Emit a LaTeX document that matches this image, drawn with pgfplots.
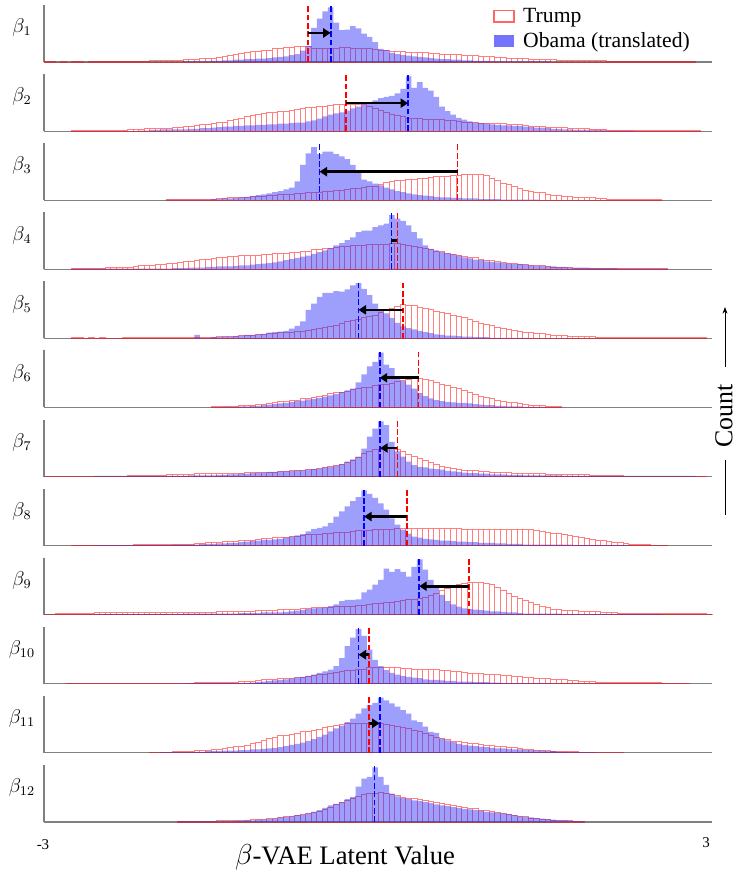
\documentclass[border=0pt]{standalone}
\usepackage{pgfplots}
\pgfplotsset{compat=1.18}
\usepackage{pgfplotstable}
\usetikzlibrary{arrows.meta}
\usepackage{fontspec}
\setmainfont{Liberation Serif}
\definecolor{ob}{RGB}{40,40,250}

% bin k spans [-3+0.05k, -3+0.05(k+1)]; values in percent of panel height
\pgfplotstableread{
k t o
0 1 0
1 1 0
2 0 0
3 1 0
4 0 0
5 1 0
6 1 0
7 0 0
8 1 0
9 1 0
10 1 0
11 1 0
12 1 0
13 1 0
14 1 0
15 1 0
16 1 0
17 1 0
18 1 0
19 2 0
20 2 0
21 2 0
22 3 0
23 3 0
24 3 0
25 4 1
26 4 1
27 5 1
28 6 1
29 6 1
30 7 2
31 8 2
32 10 3
33 12 3
34 14 4
35 15 4
36 16 5
37 18 5
38 19 6
39 20 6
40 21 7
41 23 8
42 24 9
43 25 10
44 26 12
45 27 14
46 28 20
47 28 28
48 24 60
49 23 76
50 23 89
51 24 96
52 24 69
53 25 56
54 25 57
55 24 63
56 24 59
57 23 50
58 23 44
59 22 35
60 21 23
61 20 21
62 19 16
63 18 14
64 18 12
65 17 11
66 17 10
67 16 9
68 16 8
69 15 7
70 15 6
71 14 5
72 14 5
73 13 4
74 13 4
75 12 3
76 12 3
77 11 2
78 10 2
79 10 2
80 9 1
81 8 1
82 8 1
83 7 1
84 7 1
85 6 1
86 6 1
87 5 1
88 5 1
89 4 1
90 4 1
91 4 0
92 3 0
93 3 0
94 3 0
95 2 0
96 2 0
97 2 0
98 2 0
99 2 0
100 2 0
101 1 0
102 1 0
103 1 0
104 1 0
105 1 0
106 1 0
107 1 0
108 1 0
109 1 0
110 1 0
111 1 0
112 1 0
113 1 0
114 1 0
115 1 0
116 1 0
117 0 0
}\tA

\pgfplotstableread{
k t o
5 1 0
6 1 0
7 1 0
8 1 0
9 1 0
10 1 0
11 2 0
12 2 0
13 2 0
14 2 0
15 3 0
16 3 0
17 3 1
18 4 1
19 4 2
20 4 2
21 5 3
22 5 3
23 6 3
24 7 3
25 8 3
26 9 4
27 10 4
28 11 5
29 12 5
30 14 6
31 15 7
32 16 8
33 18 8
34 20 9
35 23 9
36 26 10
37 28 10
38 30 11
39 31 11
40 32 12
41 33 12
42 34 13
43 35 13
44 36 14
45 38 15
46 40 15
47 41 17
48 42 19
49 43 22
50 44 26
51 45 29
52 46 31
53 47 33
54 47 36
55 47 40
56 47 43
57 46 47
58 44 50
59 40 54
60 36 58
61 32 60
62 29 62
63 27 66
64 25 74
65 23 96
66 22 76
67 22 86
68 21 76
69 21 71
70 20 60
71 20 43
72 19 35
73 18 29
74 17 23
75 16 20
76 15 17
77 15 15
78 14 14
79 14 13
80 14 12
81 14 11
82 13 10
83 12 10
84 12 9
85 11 9
86 10 8
87 9 7
88 9 6
89 8 6
90 7 5
91 7 4
92 6 4
93 6 3
94 5 3
95 5 2
96 4 2
97 4 2
98 3 2
99 3 2
100 3 2
101 2 1
102 2 1
103 1 1
104 1 1
105 1 1
106 1 0
107 1 0
108 1 0
109 1 0
110 1 0
111 1 0
112 1 0
113 1 0
114 1 0
115 1 0
116 1 0
117 1 0
118 0 0
}\tB

\pgfplotstableread{
k t o
22 1 1
23 1 1
24 1 1
25 1 1
26 2 1
27 2 1
28 2 1
29 2 1
30 2 2
31 3 2
32 3 3
33 4 3
34 4 4
35 5 5
36 5 6
37 6 7
38 6 9
39 7 10
40 8 12
41 9 14
42 10 16
43 10 19
44 11 22
45 12 33
46 12 62
47 13 82
48 14 93
49 14 81
50 15 85
51 16 85
52 17 81
53 18 77
54 19 72
55 20 62
56 21 48
57 22 36
58 24 33
59 25 29
60 28 26
61 31 22
62 33 19
63 34 16
64 35 14
65 36 12
66 37 10
67 38 9
68 39 8
69 40 7
70 41 6
71 41 5
72 42 5
73 43 4
74 44 4
75 45 3
76 46 3
77 46 3
78 46 2
79 43 2
80 39 2
81 34 2
82 30 1
83 27 1
84 24 1
85 20 1
86 18 1
87 16 1
88 14 1
89 13 0
90 11 0
91 9 0
92 8 0
93 7 0
94 6 0
95 5 0
96 5 0
97 4 0
98 4 0
99 3 0
100 3 0
101 2 0
102 2 0
103 1 0
104 1 0
105 1 0
106 1 0
107 1 0
108 1 0
109 1 0
110 1 0
111 0 0
}\tC

\pgfplotstableread{
k t o
5 1 1
6 1 1
7 2 1
8 2 1
9 2 1
10 2 1
11 3 1
12 3 1
13 3 1
14 4 1
15 4 1
16 5 1
17 6 1
18 6 1
19 7 1
20 8 1
21 9 1
22 10 1
23 11 2
24 12 2
25 13 2
26 14 3
27 15 3
28 17 3
29 18 4
30 19 4
31 20 5
32 21 5
33 22 5
34 23 6
35 24 7
36 24 7
37 25 8
38 25 9
39 26 10
40 26 11
41 27 12
42 28 14
43 28 16
44 29 18
45 30 20
46 31 22
47 32 24
48 34 27
49 35 30
50 36 33
51 37 37
52 38 42
53 40 46
54 40 51
55 41 56
56 42 65
57 42 68
58 43 68
59 43 74
60 44 77
61 44 80
62 45 95
63 45 89
64 43 85
65 41 77
66 40 65
67 38 54
68 36 42
69 34 36
70 32 33
71 31 30
72 28 28
73 26 26
74 25 24
75 23 21
76 21 19
77 20 17
78 18 16
79 16 14
80 15 13
81 13 12
82 12 11
83 11 10
84 10 9
85 9 9
86 8 8
87 7 7
88 6 6
89 6 6
90 5 5
91 4 5
92 4 4
93 3 4
94 3 3
95 2 3
96 2 3
97 2 3
98 2 2
99 2 2
100 2 2
101 1 2
102 1 2
103 1 1
104 1 1
105 1 1
106 1 1
107 1 1
108 1 1
109 1 1
110 1 1
111 1 1
112 0 0
}\tD

\pgfplotstableread{
k t o
5 1 0
6 1 0
7 0 0
8 1 0
9 0 0
10 1 0
11 0 0
12 0 0
13 0 0
14 1 0
15 1 0
16 1 0
17 1 0
18 1 0
19 1 0
20 1 0
21 1 0
22 1 0
23 1 0
24 1 0
25 1 0
26 1 0
27 2 6
28 2 1
29 2 1
30 2 2
31 3 2
32 3 3
33 4 3
34 4 4
35 5 5
36 5 6
37 6 6
38 7 7
39 7 8
40 8 10
41 9 11
42 10 12
43 10 13
44 11 17
45 12 22
46 13 30
47 14 50
48 15 61
49 17 73
50 19 80
51 21 80
52 23 83
53 26 82
54 29 86
55 31 93
56 33 97
57 36 87
58 38 76
59 41 61
60 45 50
61 49 44
62 53 36
63 56 27
64 59 21
65 58 18
66 57 16
67 55 13
68 53 11
69 51 9
70 48 7
71 46 6
72 44 5
73 41 5
74 39 4
75 36 3
76 33 3
77 30 2
78 27 2
79 25 2
80 22 1
81 19 1
82 17 1
83 16 1
84 14 1
85 13 1
86 11 1
87 10 0
88 9 0
89 8 0
90 7 0
91 6 0
92 6 0
93 5 0
94 4 0
95 4 0
96 3 0
97 3 0
98 3 0
99 2 0
100 2 0
101 2 0
102 2 0
103 2 0
104 1 0
105 1 0
106 1 0
107 1 0
108 1 0
109 1 0
110 1 0
111 1 0
112 1 0
113 1 0
114 1 0
115 1 0
116 1 0
117 1 0
118 1 0
119 0 0
}\tE

\pgfplotstableread{
k t o
30 1 0
31 1 0
32 1 1
33 2 1
34 2 1
35 3 2
36 3 2
37 4 3
38 5 3
39 6 4
40 7 5
41 8 6
42 10 7
43 11 8
44 12 10
45 13 11
46 15 12
47 16 14
48 18 15
49 20 17
50 22 19
51 24 21
52 26 24
53 27 27
54 29 30
55 31 33
56 33 44
57 35 58
58 36 72
59 38 80
60 40 96
61 41 75
62 43 69
63 45 55
64 47 46
65 50 40
66 52 33
67 51 25
68 49 20
69 47 16
70 44 13
71 41 11
72 39 10
73 36 9
74 34 8
75 30 8
76 26 7
77 23 6
78 20 5
79 18 4
80 15 4
81 13 3
82 11 3
83 9 2
84 8 2
85 7 2
86 5 1
87 4 1
88 4 1
89 3 1
90 2 0
91 2 0
92 1 0
93 0 0
}\tF

\pgfplotstableread{
k t o
0 1 0
1 1 0
2 1 0
3 1 0
4 1 0
5 1 0
6 1 0
7 1 0
8 1 0
9 1 1
10 1 1
11 1 1
12 1 1
13 1 1
14 1 1
15 2 1
16 2 1
17 2 1
18 2 1
19 2 1
20 2 1
21 2 1
22 3 1
23 3 1
24 4 1
25 4 1
26 4 2
27 5 2
28 5 2
29 5 2
30 5 2
31 6 3
32 6 3
33 6 4
34 6 4
35 6 5
36 7 5
37 7 6
38 7 7
39 8 7
40 8 8
41 8 8
42 9 9
43 9 9
44 10 10
45 11 11
46 11 11
47 12 12
48 13 13
49 15 14
50 16 16
51 18 17
52 20 19
53 22 22
54 25 26
55 29 30
56 33 35
57 40 49
58 44 70
59 47 84
60 48 97
61 49 90
62 49 61
63 47 44
64 44 35
65 39 26
66 35 20
67 32 17
68 29 16
69 25 14
70 21 13
71 18 12
72 16 10
73 14 9
74 13 8
75 11 7
76 10 6
77 10 6
78 9 5
79 9 5
80 8 4
81 8 4
82 7 4
83 7 3
84 6 3
85 6 3
86 6 2
87 5 2
88 5 2
89 5 2
90 4 2
91 4 2
92 4 2
93 4 1
94 3 1
95 3 1
96 3 1
97 3 1
98 2 1
99 2 1
100 2 1
101 2 1
102 2 1
103 2 1
104 1 1
105 1 1
106 1 1
107 1 1
108 1 1
109 1 1
110 1 1
111 1 1
112 1 1
113 1 1
114 1 1
115 1 1
116 1 1
117 1 0
118 1 0
119 0 0
}\tG

\pgfplotstableread{
k t o
5 1 0
6 1 0
7 1 0
8 1 0
9 1 1
10 1 1
11 1 1
12 1 1
13 1 1
14 1 1
15 1 1
16 2 1
17 2 1
18 2 1
19 2 1
20 2 1
21 2 1
22 2 1
23 2 2
24 3 2
25 3 2
26 3 2
27 4 2
28 4 3
29 5 3
30 5 3
31 6 4
32 7 4
33 7 5
34 8 5
35 9 6
36 10 7
37 10 8
38 11 9
39 12 10
40 13 10
41 14 11
42 14 12
43 15 14
44 16 16
45 17 18
46 18 20
47 19 25
48 20 29
49 20 31
50 21 34
51 22 40
52 23 51
53 23 60
54 24 69
55 25 78
56 26 85
57 26 97
58 27 91
59 28 84
60 28 74
61 29 63
62 29 48
63 30 37
64 30 28
65 31 21
66 31 16
67 31 14
68 31 12
69 31 11
70 31 10
71 31 9
72 30 9
73 30 8
74 30 7
75 29 7
76 28 6
77 28 6
78 28 5
79 28 5
80 28 5
81 29 4
82 29 4
83 29 3
84 29 3
85 28 3
86 28 2
87 28 2
88 27 2
89 25 2
90 23 2
91 22 2
92 21 2
93 20 2
94 18 2
95 16 1
96 14 1
97 13 1
98 11 1
99 10 1
100 9 1
101 8 1
102 6 1
103 5 1
104 4 1
105 3 0
106 3 0
107 2 0
108 2 0
109 1 0
110 1 0
111 1 0
112 0 0
}\tH

\pgfplotstableread{
k t o
0 1 0
1 1 0
2 2 0
3 2 0
4 2 0
5 2 0
6 3 0
7 3 0
8 3 0
9 4 1
10 4 1
11 4 1
12 4 1
13 4 1
14 4 1
15 4 1
16 4 1
17 4 1
18 4 1
19 4 1
20 4 1
21 4 1
22 4 1
23 4 1
24 4 1
25 4 2
26 4 2
27 4 2
28 4 2
29 4 2
30 4 2
31 5 2
32 5 2
33 5 2
34 5 2
35 5 3
36 5 3
37 6 3
38 7 3
39 7 4
40 8 4
41 8 4
42 9 4
43 9 5
44 10 6
45 10 7
46 11 8
47 11 10
48 12 11
49 12 12
50 13 13
51 13 15
52 14 18
53 14 24
54 15 26
55 15 26
56 16 27
57 17 39
58 18 44
59 19 53
60 20 61
61 21 81
62 22 75
63 23 80
64 25 75
65 26 67
66 27 84
67 28 97
68 30 79
69 34 61
70 38 47
71 43 35
72 47 24
73 50 18
74 53 14
75 55 11
76 57 10
77 57 9
78 57 8
79 55 7
80 53 6
81 48 6
82 42 5
83 38 4
84 33 4
85 29 3
86 25 2
87 21 2
88 18 2
89 15 2
90 12 2
91 10 2
92 9 2
93 8 1
94 7 1
95 7 1
96 6 1
97 6 1
98 5 1
99 5 1
100 4 1
101 4 1
102 4 1
103 3 1
104 3 1
105 3 1
106 3 1
107 3 1
108 3 1
109 3 1
110 3 1
111 2 0
112 2 0
113 2 0
114 2 0
115 2 0
116 2 0
117 2 0
118 2 0
119 1 0
120 0 0
}\tI

\pgfplotstableread{
k t o
4 1 0
5 1 0
6 1 0
7 1 0
8 1 0
9 1 0
10 1 0
11 0 0
12 0 0
13 0 0
14 0 0
15 0 0
16 0 0
17 0 0
18 0 0
19 0 0
20 0 0
21 1 0
22 1 0
23 1 0
24 1 0
25 1 0
26 1 1
27 2 1
28 2 1
29 2 1
30 2 1
31 3 1
32 3 1
33 3 1
34 3 1
35 4 1
36 4 1
37 5 2
38 6 3
39 7 4
40 7 5
41 8 6
42 9 7
43 10 8
44 10 9
45 11 11
46 12 12
47 13 14
48 14 16
49 16 19
50 17 22
51 19 25
52 20 31
53 21 45
54 23 66
55 24 81
56 25 96
57 26 84
58 28 60
59 28 42
60 29 31
61 29 24
62 28 19
63 28 16
64 27 14
65 27 12
66 26 11
67 26 10
68 26 8
69 25 7
70 25 7
71 24 6
72 23 5
73 22 5
74 21 4
75 20 4
76 19 4
77 19 3
78 18 3
79 17 3
80 16 2
81 16 2
82 15 1
83 14 1
84 13 1
85 13 1
86 12 1
87 11 1
88 10 1
89 10 1
90 9 1
91 8 0
92 8 0
93 7 0
94 6 0
95 6 0
96 5 0
97 4 0
98 4 0
99 3 0
100 3 0
101 3 0
102 3 0
103 2 0
104 2 0
105 2 0
106 2 0
107 2 0
108 2 0
109 2 0
110 2 0
111 1 0
112 1 0
113 1 0
114 1 0
115 1 0
116 0 0
}\tJ

\pgfplotstableread{
k t o
19 1 0
20 1 0
21 1 1
22 1 1
23 2 1
24 2 1
25 3 1
26 3 1
27 4 2
28 4 2
29 5 3
30 6 3
31 7 3
32 8 4
33 9 4
34 11 4
35 12 5
36 13 5
37 16 6
38 19 6
39 22 7
40 25 8
41 28 9
42 30 10
43 31 12
44 33 14
45 35 16
46 37 18
47 38 21
48 40 24
49 42 28
50 44 32
51 46 38
52 48 43
53 50 48
54 51 54
55 51 60
56 51 69
57 51 78
58 51 84
59 51 88
60 51 97
61 50 92
62 49 87
63 47 81
64 45 75
65 43 69
66 40 57
67 37 54
68 34 46
69 31 37
70 28 35
71 25 25
72 23 22
73 21 19
74 20 16
75 18 14
76 17 13
77 16 12
78 15 11
79 14 10
80 13 9
81 12 8
82 11 8
83 10 7
84 9 6
85 8 6
86 7 5
87 6 5
88 5 4
89 5 4
90 4 3
91 3 3
92 3 2
93 2 2
94 2 1
95 2 1
96 1 1
97 1 1
98 1 1
99 1 0
100 1 0
101 1 0
102 1 0
103 1 0
104 0 0
}\tK

\pgfplotstableread{
k t o
24 1 1
25 1 1
26 1 1
27 1 1
28 1 1
29 1 1
30 1 1
31 2 1
32 2 1
33 2 1
34 2 2
35 3 2
36 3 3
37 4 3
38 5 4
39 5 4
40 6 5
41 7 6
42 8 8
43 9 9
44 10 10
45 12 12
46 13 13
47 15 15
48 17 18
49 19 21
50 22 25
51 26 29
52 30 32
53 34 35
54 38 40
55 42 44
56 45 62
57 48 76
58 50 79
59 51 96
60 52 79
61 51 65
62 49 50
63 47 45
64 44 42
65 42 40
66 41 38
67 39 37
68 38 35
69 36 33
70 34 31
71 33 29
72 31 28
73 29 26
74 27 25
75 26 23
76 24 22
77 23 21
78 21 20
79 20 18
80 18 17
81 16 16
82 15 15
83 13 14
84 12 12
85 10 10
86 9 9
87 7 8
88 6 7
89 5 6
90 4 5
91 3 4
92 3 3
93 2 3
94 2 2
95 1 1
96 1 1
97 0 0
}\tL

\pgfplotsset{
 panel/.style={scale only axis, width=400.8pt, height=34.2pt,
   xmin=0, xmax=120, ymin=0, ymax=100,
   axis x line*=bottom, axis y line*=left, xtick=\empty, ytick=\empty,
   axis line style={draw=black!50, line width=0.7pt},
   clip=false, anchor=south west},
 trumpbar/.style={ybar interval, draw=red, draw opacity=0.5, line width=0.5pt, fill=none},
 obamabar/.style={ybar interval, draw=none, fill=ob, fill opacity=0.45},
 rmean/.style={draw=red, line width=1pt, dash pattern=on 3.5pt off 1.5pt},
 bmean/.style={draw=blue, line width=1pt, dash pattern=on 3.5pt off 1.5pt},
 meanarrow/.style={black, line width=1.6pt, -{Triangle[length=4.5pt,width=5.5pt]}},
}

\newcommand\panelplot[6]{%
 \begin{axis}[panel, at={(26.4pt,-#2pt)}]
 \addplot[trumpbar] table[x=k,y=t]{#1};
 \addplot[obamabar] table[x=k,y=o]{#1};
 \addplot[rmean] coordinates {(#3,0) (#3,100)};
 \addplot[bmean] coordinates {(#4,0) (#4,100)};
 #6
 \node[font=\fontsize{12}{12}\selectfont] at (rel axis cs:-0.033,0.6) {$\beta_{#5}$};
 \end{axis}}

\begin{document}
\begin{tikzpicture}
\useasboundingbox (0pt,0pt) rectangle (442.8pt,-523.2pt);

\begin{axis}[panel, at={(26.4pt,-37.2pt)},
  legend style={at={(0.672,1.01)}, anchor=north west, draw=none, fill=none,
    font=\fontsize{13}{14}\selectfont, row sep=0.5pt, inner sep=0pt,
    nodes={inner xsep=5pt}},
  legend cell align=left]
 \addplot[trumpbar, legend image code/.code={\draw[draw=red, draw opacity=0.6, line width=1pt] (0pt,-3.5pt) rectangle (12pt,3.5pt);}] table[x=k,y=t]{\tA};
 \addlegendentry{Trump}
 \addplot[obamabar, legend image code/.code={\fill[ob, fill opacity=0.65] (0pt,-3.5pt) rectangle (12pt,3.5pt);}] table[x=k,y=o]{\tA};
 \addlegendentry{Obama (translated)}
 \addplot[rmean, forget plot] coordinates {(47.4,0) (47.4,100)};
 \addplot[bmean, forget plot] coordinates {(51.5,0) (51.5,100)};
 \addplot[meanarrow, forget plot] coordinates {(47.4,51) (51.5,51)};
 \node[font=\fontsize{12}{12}\selectfont] at (rel axis cs:-0.033,0.6) {$\beta_{1}$};
\end{axis}

\panelplot{\tB}{78.65}{54.3}{65.4}{2}{\addplot[meanarrow] coordinates {(54.3,49) (65.4,49)};}
\panelplot{\tC}{120.11}{74.3}{49.5}{3}{\addplot[meanarrow] coordinates {(74.3,50) (49.5,50)};}
\panelplot{\tD}{161.56}{63.5}{62.4}{4}{\addplot[black, line width=1.6pt] coordinates {(63.5,50) (62.4,50)};}
\panelplot{\tE}{203.02}{64.5}{56.5}{5}{\addplot[meanarrow] coordinates {(64.5,50) (56.5,50)};}
\panelplot{\tF}{244.47}{67.3}{60.3}{6}{\addplot[meanarrow] coordinates {(67.3,52) (60.3,52)};}
\panelplot{\tG}{285.92}{63.5}{60.4}{7}{\addplot[meanarrow] coordinates {(63.5,50) (60.4,50)};}
\panelplot{\tH}{327.38}{65.2}{57.5}{8}{\addplot[meanarrow] coordinates {(65.2,51) (57.5,51)};}
\panelplot{\tI}{368.83}{76.4}{67.4}{9}{\addplot[meanarrow] coordinates {(76.4,50) (67.4,50)};}
\panelplot{\tJ}{410.29}{58.4}{56.5}{10}{\addplot[meanarrow] coordinates {(58.4,51) (56.5,51)};}
\panelplot{\tK}{451.74}{58.4}{60.3}{11}{\addplot[meanarrow] coordinates {(58.4,52) (60.3,52)};}
\panelplot{\tL}{493.2}{59.4}{59.4}{12}{}

\node[font=\fontsize{9}{9}\selectfont] at (25.8pt,-507pt) {-3};
\node[font=\fontsize{9}{9}\selectfont] at (423.6pt,-505.8pt) {3};
\node[font=\fontsize{16}{16}\selectfont] at (207pt,-514.5pt) {$\beta$-VAE Latent Value};
\node[rotate=90, font=\fontsize{15.5}{16}\selectfont] at (434.4pt,-249.6pt) {Count};
\draw[-{Stealth[length=4pt,width=3pt]}, line width=0.5pt] (435pt,-220.2pt) -- (435pt,-184.2pt);
\draw[line width=0.5pt] (435pt,-276pt) -- (435pt,-309pt);
\end{tikzpicture}
\end{document}
